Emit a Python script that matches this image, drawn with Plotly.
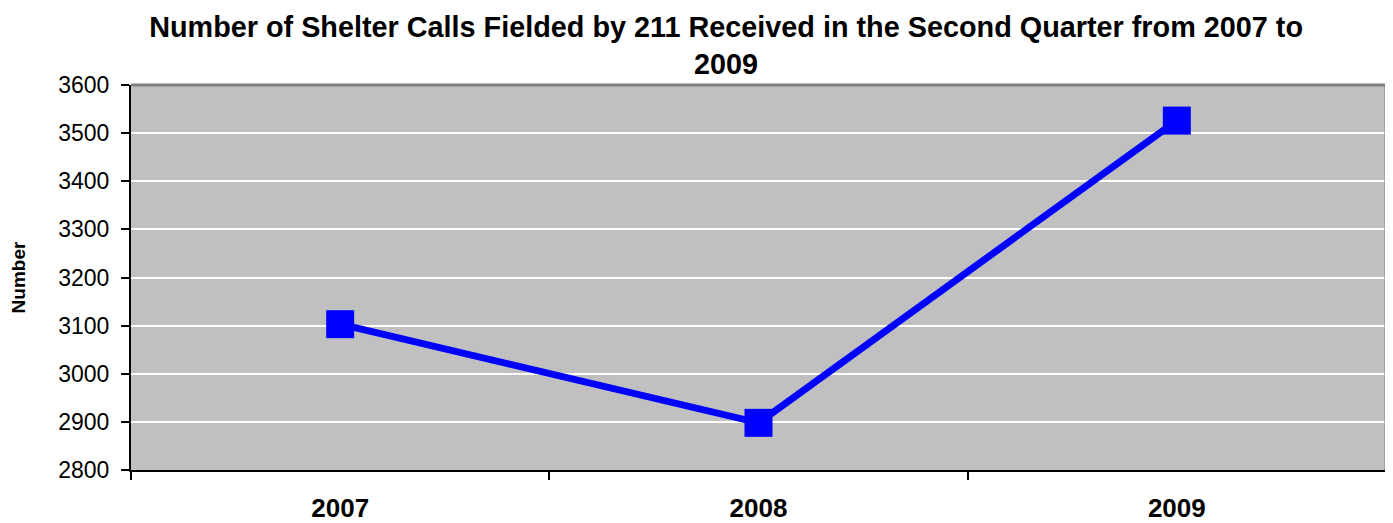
import plotly.graph_objects as go

# second quarter shelter calls
years = ["2007", "2008", "2009"]
calls = [3103, 2898, 3526]

fig = go.Figure()
fig.add_trace(go.Scatter(
    x=years, y=calls, mode="lines+markers",
    line=dict(color="#0000ff", width=7),
    marker=dict(symbol="square", size=28, color="#0000ff"),
    showlegend=False,
))

# page body adds an 8px offset, margins compensate for it
fig.update_layout(
    width=1393, height=523,
    margin=dict(l=123, r=15, t=77, b=61),
    paper_bgcolor="white", plot_bgcolor="#c0c0c0",
    font=dict(family="Liberation Sans, Arial", color="black"),
    title=dict(
        text="Number of Shelter Calls Fielded by 211 Received in the Second Quarter from 2007 to<br>2009",
        x=0.5155, xanchor="center", yref="container", y=0.945, yanchor="middle",
        font=dict(size=28.8, family="Liberation Sans, Arial", weight="bold"),
        automargin=False,
    ),
)
fig.update_xaxes(
    type="category", tickson="boundaries", ticks="outside", ticklen=8,
    tickwidth=2, tickcolor="black", showline=True, linecolor="black",
    linewidth=2, showgrid=False, range=[-0.5, 2.5],
    tickfont=dict(size=26, weight="bold"), automargin=False,
    ticklabelstandoff=14,
)
fig.update_yaxes(
    range=[2800, 3600], dtick=100, ticks="outside", ticklen=8,
    tickwidth=2, tickcolor="black", showline=True, linecolor="black",
    linewidth=2, gridcolor="white", gridwidth=2, zeroline=False,
    tickfont=dict(size=23), automargin=False, ticklabelstandoff=7,
    title=dict(text="<b>Number</b>", font=dict(size=19), standoff=29),
)
# grey frame on top and right
fig.add_shape(type="line", xref="paper", yref="paper", x0=0, x1=1, y0=1, y1=1,
              line=dict(color="#808080", width=3))
fig.add_shape(type="line", xref="paper", yref="paper", x0=1, x1=1, y0=0, y1=1,
              line=dict(color="#808080", width=3))

fig.write_html("out.html")
